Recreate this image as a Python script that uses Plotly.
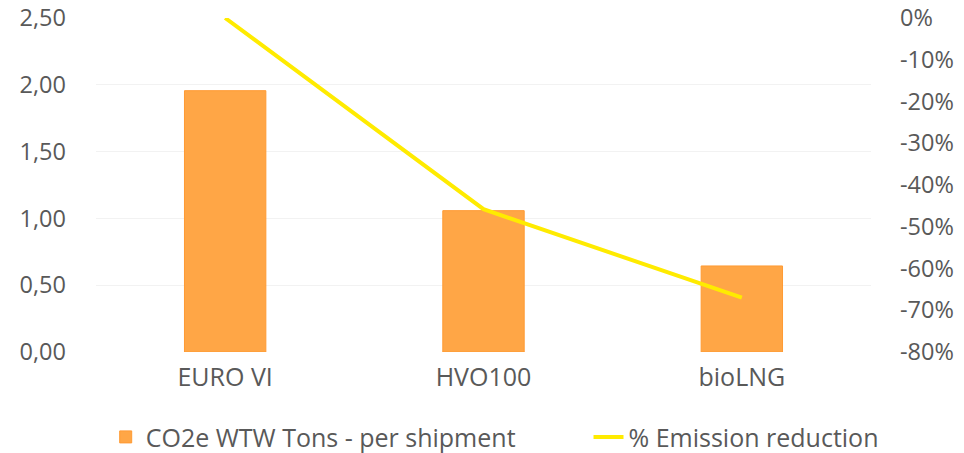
import plotly.graph_objects as go

categories = ["EURO VI", "HVO100", "bioLNG"]
co2_tons = [1.956, 1.058, 0.644]
emission_reduction = [0.0, -0.458, -0.67]

right_tickvals = [0, -0.1, -0.2, -0.3, -0.4, -0.5, -0.6, -0.7, -0.8]
right_ticktext = ["0%", "-10%", "-20%", "-30%", "-40%", "-50%", "-60%", "-70%", "-80%"]

font_fam = "Open Sans, Lato, sans-serif"
txt = "#595959"
fs = 25
fs_y = 23.5

fig = go.Figure()
fig.add_trace(go.Bar(
    x=categories, y=co2_tons, name="CO2e WTW Tons - per shipment",
    marker=dict(color="#FFA646", line=dict(color="#FF9A33", width=1)),
    yaxis="y", legend="legend",
))
fig.add_trace(go.Scatter(
    x=categories, y=emission_reduction, name="% Emission reduction",
    mode="lines", line=dict(color="#FFEB00", width=4), yaxis="y2", legend="legend2",
))

leg_common = dict(orientation="h", yref="container", y=0.035, yanchor="middle",
                  xanchor="left", font=dict(size=fs, color=txt), bgcolor="rgba(0,0,0,0)")

fig.update_layout(
    width=964, height=453,
    margin=dict(l=96, r=93, t=18, b=101),
    paper_bgcolor="white", plot_bgcolor="white",
    separators=",.",
    bargap=0.685,
    font=dict(family=font_fam, size=fs, color=txt),
    xaxis=dict(showgrid=False, showline=False, ticks="", automargin=False,
               ticklabelstandoff=8, tickfont=dict(size=fs, color=txt)),
    yaxis=dict(range=[0, 2.5], dtick=0.5, tickformat=".2f", showgrid=True,
               gridcolor="#F2F2F2", gridwidth=1, zeroline=False, showline=False,
               automargin=False, ticklabelstandoff=29, tickfont=dict(size=fs_y, color=txt)),
    yaxis2=dict(range=[-0.8, 0], tickmode="array", tickvals=right_tickvals,
                ticktext=right_ticktext, overlaying="y",
                side="right", showgrid=False, zeroline=False, showline=False,
                automargin=False, ticklabelstandoff=28, tickfont=dict(size=fs_y, color=txt)),
    legend=dict(x=0.0125, **leg_common),
    legend2=dict(x=0.6355, **leg_common),
    showlegend=True,
)

fig.write_html("out.html", config={"displayModeBar": False},
               post_script="document.body.style.margin='0';document.body.style.padding='0';")
